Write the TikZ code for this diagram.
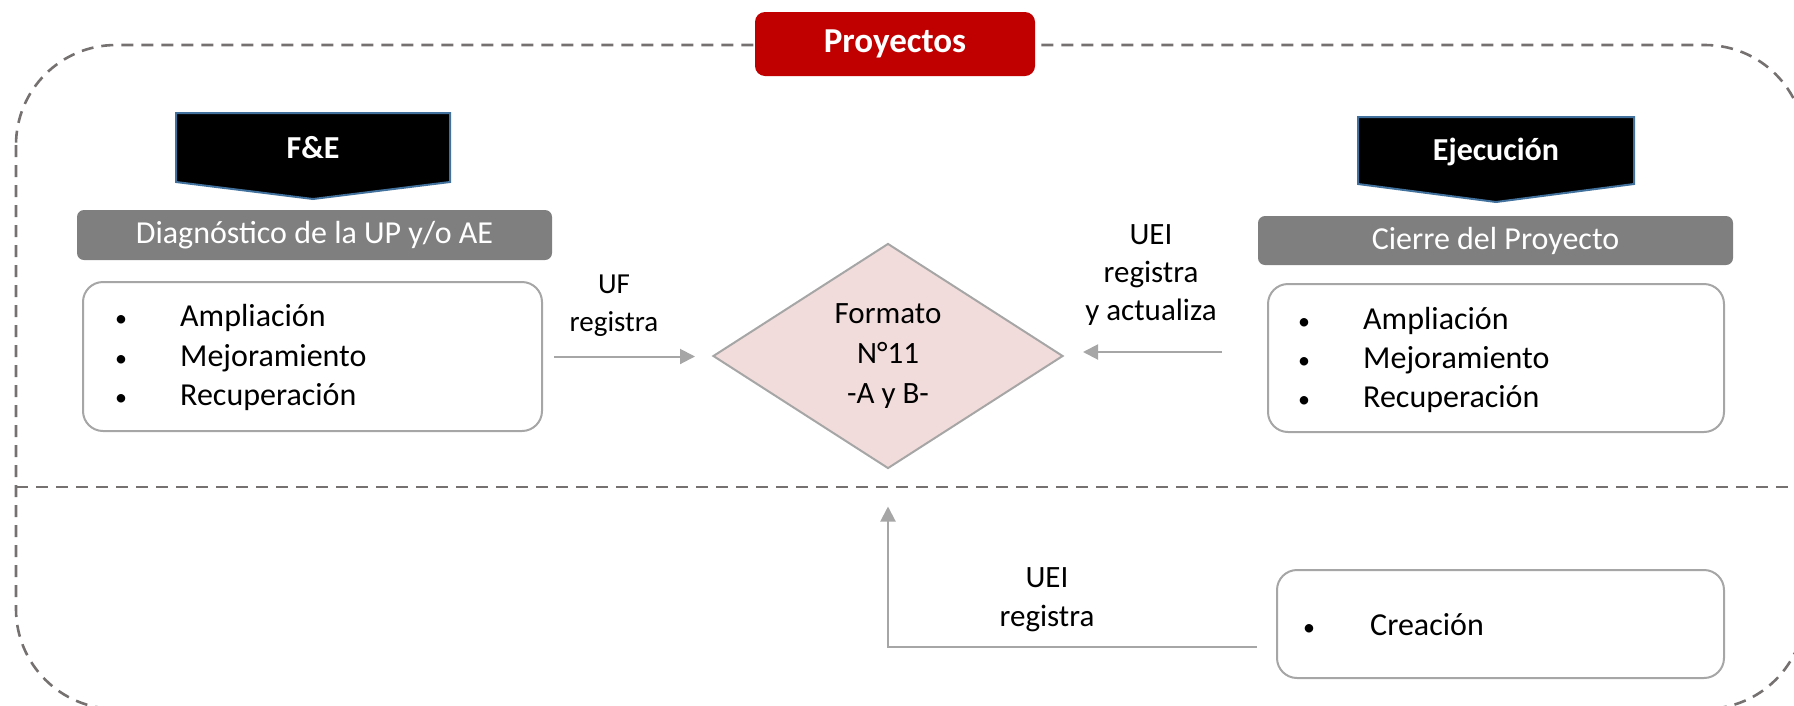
\documentclass[tikz,border=0pt]{standalone}
\usepackage{fontspec}
\setmainfont{Carlito}
\usetikzlibrary{arrows.meta,shapes.geometric,calc}
\definecolor{dashgray}{RGB}{118,113,113}
\definecolor{boxgray}{RGB}{166,166,166}
\definecolor{bargray}{RGB}{127,127,127}
\definecolor{projred}{RGB}{192,0,0}
\definecolor{diapink}{RGB}{242,220,219}
\definecolor{pentblue}{RGB}{65,113,156}
\begin{document}
\begin{tikzpicture}[x=1pt,y=-1pt,
  outline/.style={draw=dashgray,line width=2.6pt,dash pattern=on 12pt off 8pt},
  listbox/.style={draw=boxgray,line width=2pt,rounded corners=20pt,fill=white,inner sep=0pt},
  bar/.style={fill=bargray,rounded corners=7pt,text=white,inner sep=0pt,font=\fontsize{32}{40}\selectfont},
  pent/.style={fill=black,draw=pentblue,line width=2pt},
  penttext/.style={text=white,font=\fontsize{32}{38}\selectfont\bfseries},
  itemtext/.style={anchor=base west,inner sep=0pt,font=\fontsize{32}{40}\selectfont},
  bul/.style={anchor=base,inner sep=0pt,font=\fontsize{24}{30}\selectfont},
  lbl/.style={align=center,inner sep=0pt},
  arr/.style={draw=boxgray,line width=2pt,-{Triangle[length=15pt,width=15pt]}}
]
\useasboundingbox (0,0) rectangle (1794,705);
\begin{scope}
\clip (0,0) rectangle (1794,705);
% outer dashed frame and separator
\draw[outline,rounded corners=100pt] (16,45) rectangle (1805,709);
\draw[outline] (16,487) -- (1805,487);
\end{scope}

% title
\node[fill=projred,rounded corners=10pt,minimum width=280pt,minimum height=64pt,inner sep=0pt,
      text=white,font=\fontsize{35}{40}\selectfont\bfseries] (proy) at (895,44) {Proyectos};

% phase pentagons
\draw[pent] (176,113) -- (450,113) -- (450,182) -- (313,199) -- (176,182) -- cycle;
\node[penttext] (fe) at (313,148) {F\&E};
\draw[pent] (1358,117) -- (1634,117) -- (1634,184) -- (1496,202) -- (1358,184) -- cycle;
\node[penttext] (ejec) at (1496,152) {Ejecución};

% gray bars
\node[bar,minimum width=475pt,minimum height=50pt] (diag) at (314.5,235) {Diagnóstico de la UP y/o AE};
\node[bar,minimum width=475pt,minimum height=49pt] (cierre) at (1495.5,240.5) {Cierre del Proyecto};

% list boxes
\node[listbox,minimum width=459pt,minimum height=149pt] (lbox) at (312.5,356.5) {};
\node[bul] at (121,326) {•};
\node[itemtext] (l1) at (180,326) {Ampliación};
\node[bul] at (121,366) {•};
\node[itemtext] (l2) at (180,366) {Mejoramiento};
\node[bul] at (121,405) {•};
\node[itemtext] (l3) at (180,405) {Recuperación};

\node[listbox,minimum width=456pt,minimum height=148pt] (rbox) at (1496,358) {};
\node[bul] at (1304,329) {•};
\node[itemtext] (r1) at (1363,329) {Ampliación};
\node[bul] at (1304,368) {•};
\node[itemtext] (r2) at (1363,368) {Mejoramiento};
\node[bul] at (1304,407) {•};
\node[itemtext] (r3) at (1363,407) {Recuperación};

\node[listbox,minimum width=447pt,minimum height=108pt] (cbox) at (1500.5,624) {};
\node[bul] at (1309,635) {•};
\node[itemtext] (c1) at (1370,635) {Creación};

% diamond
\node[diamond,draw=boxgray,fill=diapink,line width=2pt,minimum width=350pt,minimum height=225pt,
      inner sep=0pt,align=center,font=\fontsize{31}{40}\selectfont] (dia) at (888,356)
      {Formato\\N°11\\-A y B-};

% connectors
\draw[arr,shorten <=11pt,shorten >=17pt] (lbox.east) -- (lbox.east -| dia.west);
\draw[arr,shorten <=45pt,shorten >=19pt] ([yshift=6pt]rbox.west) -- ([yshift=6pt]rbox.west -| dia.east);
\draw[arr,shorten <=19pt,shorten >=37pt] ([yshift=-23pt]cbox.west) -| (dia.south);

% labels
\node[lbl,font=\fontsize{29}{38}\selectfont] (lab1) at (614,306) {UF\\registra};
\node[lbl,font=\fontsize{31}{38}\selectfont] (lab2) at (1151,275) {UEI\\registra\\y actualiza};
\node[lbl,font=\fontsize{31}{39}\selectfont] (lab3) at (1047,600) {UEI\\registra};
\end{tikzpicture}
\end{document}
